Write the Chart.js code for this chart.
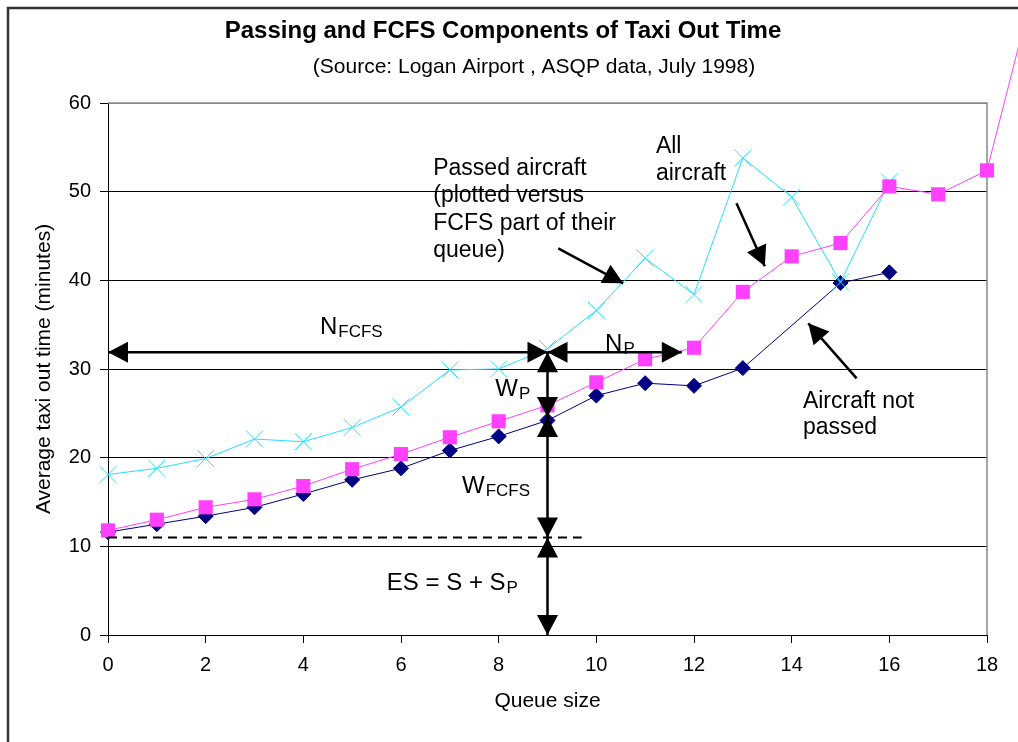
<!DOCTYPE html>
<html>
<head>
<meta charset="utf-8">
<script src="https://cdn.jsdelivr.net/npm/chart.js@4.4.1/dist/chart.umd.min.js"></script>
<style>
  html, body { margin: 0; padding: 0; background: #fff; }
  #wrap { width: 1018px; height: 742px; position: relative; }
</style>
</head>
<body>
<div id="wrap"><canvas id="myChart"></canvas></div>
<script>
const FONT = "'Liberation Sans', Arial, sans-serif";

// queue size (x) and the three series, null = no point
const queueSizes = [0, 1, 2, 3, 4, 5, 6, 7, 8, 9, 10, 11, 12, 13, 14, 15, 16, 17, 18, 19];
const allAircraft = [11.8, 13.0, 14.4, 15.3, 16.8, 18.7, 20.4, 22.3, 24.1, 25.9, 28.5, 31.1, 32.4, 38.7, 42.7, 44.2, 50.6, 49.7, 52.4, 74];
const passedAircraft = [18.1, 18.8, 19.9, 22.1, 21.8, 23.4, 25.7, 29.9, 30.0, 32.3, 36.6, 42.5, 38.4, 53.8, 49.4, 39.8, 51.1, null, null, null];
const notPassed = [11.6, 12.5, 13.4, 14.4, 15.9, 17.5, 18.8, 20.8, 22.4, 24.2, 27.0, 28.4, 28.1, 30.1, null, 39.7, 40.9, null, null, null];

const xTicks = [0, 2, 4, 6, 8, 10, 12, 14, 16, 18];
const yTicks = [0, 10, 20, 30, 40, 50, 60];

// annotation arrows in data units: [x1, y1, x2, y2, heads]
const arrows = [
  [0, 31.9, 9, 31.9, 'both'],       // N FCFS
  [9, 31.9, 11.75, 31.9, 'both'],   // N P
  [9, 31.9, 9, 24.6, 'both'],       // W P
  [9, 24.6, 9, 11.0, 'both'],       // W FCFS
  [9, 11.0, 9, 0, 'both'],          // ES
  [9.22, 43.6, 10.55, 39.66, 'end'],
  [12.87, 48.7, 13.45, 41.6, 'end'],
  [15.33, 28.95, 14.34, 35.15, 'end']
];

const toPoints = (vals) => queueSizes
  .map((q, i) => ({ x: q, y: vals[i] }))
  .filter(p => p.y !== null);

const data = {
  datasets: [
    {
      label: 'All aircraft',
      data: toPoints(allAircraft),
      borderColor: '#ff40ff',
      backgroundColor: '#ff40ff',
      borderWidth: 1,
      pointStyle: 'rect',
      pointRadius: 10,
      pointBorderWidth: 0,
      clip: false
    },
    {
      label: 'Passed aircraft',
      data: toPoints(passedAircraft),
      borderColor: '#22e2ff',
      backgroundColor: '#22e2ff',
      borderWidth: 1,
      pointStyle: 'crossRot',
      pointRadius: 12,
      pointBorderWidth: 1,
      clip: false
    },
    {
      label: 'Aircraft not passed',
      data: toPoints(notPassed),
      borderColor: '#000080',
      backgroundColor: '#000080',
      borderWidth: 1,
      pointStyle: 'rectRot',
      pointRadius: 7.5,
      pointBorderWidth: 1,
      clip: false
    }
  ]
};

function head(ctx, tx, ty, fx, fy, len, half) {
  const a = Math.atan2(ty - fy, tx - fx);
  const bx = tx - len * Math.cos(a), by = ty - len * Math.sin(a);
  ctx.beginPath();
  ctx.moveTo(tx, ty);
  ctx.lineTo(bx + half * Math.sin(a), by - half * Math.cos(a));
  ctx.lineTo(bx - half * Math.sin(a), by + half * Math.cos(a));
  ctx.closePath();
  ctx.fill();
}

function subText(ctx, main, sub, x, y, size, subSize) {
  ctx.font = size + 'px ' + FONT;
  ctx.fillText(main, x, y);
  const w = ctx.measureText(main).width;
  ctx.font = subSize + 'px ' + FONT;
  ctx.fillText(sub, x + w + 1, y + 3);
}

const annotate = {
  id: 'annotate',
  beforeDraw(chart) {
    const ctx = chart.ctx;
    ctx.save();
    ctx.fillStyle = '#fff';
    ctx.fillRect(0, 0, chart.width, chart.height);
    ctx.restore();
  },
  beforeDatasetsDraw(chart) {
    const { ctx, chartArea: a } = chart;
    ctx.save();
    ctx.strokeStyle = '#888';
    ctx.lineWidth = 1.5;
    ctx.beginPath();
    ctx.moveTo(a.left, a.top);
    ctx.lineTo(a.right, a.top);
    ctx.lineTo(a.right, a.bottom);
    ctx.stroke();
    ctx.restore();
  },
  afterDraw(chart) {
    const { ctx, scales: { x, y } } = chart;
    ctx.save();

    // outer frame
    ctx.strokeStyle = '#333';
    ctx.lineWidth = 2.5;
    ctx.beginPath();
    ctx.moveTo(8, chart.height);
    ctx.lineTo(8, 8);
    ctx.lineTo(chart.width, 8);
    ctx.stroke();

    // titles
    ctx.fillStyle = '#000';
    ctx.textAlign = 'center';
    ctx.textBaseline = 'alphabetic';
    ctx.font = 'bold 24px ' + FONT;
    ctx.fillText('Passing and FCFS Components of Taxi Out Time', 503, 38);
    ctx.font = '21px ' + FONT;
    ctx.fillText('(Source: Logan Airport , ASQP data, July 1998)', 534, 73);

    // dashed ES level
    ctx.strokeStyle = '#000';
    ctx.lineWidth = 2;
    ctx.setLineDash([9, 6]);
    ctx.beginPath();
    ctx.moveTo(x.getPixelForValue(0), y.getPixelForValue(11.0));
    ctx.lineTo(x.getPixelForValue(9.7), y.getPixelForValue(11.0));
    ctx.stroke();
    ctx.setLineDash([]);

    // arrows
    ctx.fillStyle = '#000';
    ctx.lineWidth = 2.5;
    arrows.forEach(([x1, y1, x2, y2, heads]) => {
      const px1 = x.getPixelForValue(x1), py1 = y.getPixelForValue(y1);
      const px2 = x.getPixelForValue(x2), py2 = y.getPixelForValue(y2);
      ctx.beginPath();
      ctx.moveTo(px1, py1);
      ctx.lineTo(px2, py2);
      ctx.stroke();
      head(ctx, px2, py2, px1, py1, 20, 10.5);
      if (heads === 'both') head(ctx, px1, py1, px2, py2, 20, 10.5);
    });

    // labels
    ctx.textAlign = 'left';
    ctx.font = '23px ' + FONT;
    const lines = (arr, xv, yv, lh) => arr.forEach((t, i) =>
      ctx.fillText(t, x.getPixelForValue(xv), y.getPixelForValue(yv) + i * lh));
    lines(['Passed aircraft', '(plotted versus', 'FCFS part of their', 'queue)'], 6.66, 51.88, 27.5);
    lines(['All', 'aircraft'], 11.22, 54.36, 27);
    lines(['Aircraft not', 'passed'], 14.23, 25.6, 26);

    subText(ctx, 'N', 'FCFS', x.getPixelForValue(4.34), y.getPixelForValue(33.9), 24, 17);
    subText(ctx, 'N', 'P', x.getPixelForValue(10.18), y.getPixelForValue(32.0), 24, 17);
    subText(ctx, 'W', 'P', x.getPixelForValue(7.93), y.getPixelForValue(27.0), 24, 17);
    subText(ctx, 'W', 'FCFS', x.getPixelForValue(7.25), y.getPixelForValue(16.01), 24, 17);
    subText(ctx, 'ES = S + S', 'P', x.getPixelForValue(5.71), y.getPixelForValue(5.07), 24, 17);

    ctx.restore();
  }
};

const config = {
  type: 'line',
  data: data,
  options: {
    animation: false,
    responsive: true,
    maintainAspectRatio: false,
    layout: { padding: { left: 10, right: 31, top: 103, bottom: 27 } },
    plugins: {
      legend: { display: false },
      tooltip: { enabled: false }
    },
    scales: {
      x: {
        type: 'linear',
        bounds: 'data',
        // range set here (not as min/max) so the last segment past 18 is still drawn
        afterDataLimits: (s) => { s.min = 0; s.max = 18; },
        afterFit: (s) => { s.height = 80; },
        afterBuildTicks: (s) => { s.ticks = xTicks.map(v => ({ value: v })); },
        ticks: { color: '#000', padding: 10, font: { family: FONT, size: 20 }, maxRotation: 0 },
        grid: { drawOnChartArea: false, tickLength: 8, color: '#000' },
        border: { color: '#000', width: 1 },
        title: { display: true, text: 'Queue size', color: '#000', font: { family: FONT, size: 21 }, padding: { top: 0, bottom: 1 } }
      },
      y: {
        min: 0,
        max: 60,
        afterFit: (s) => { s.width = 98; },
        afterBuildTicks: (s) => { s.ticks = yTicks.map(v => ({ value: v })); },
        ticks: { color: '#000', padding: 9, font: { family: FONT, size: 20 } },
        grid: {
          color: (c) => (c.tick && c.tick.value === 60 ? '#888' : '#000'),
          tickColor: '#000',
          tickLength: 8,
          lineWidth: 1
        },
        border: { color: '#000', width: 1 },
        title: { display: true, text: 'Average taxi out time (minutes)', color: '#000', font: { family: FONT, size: 21 }, padding: { top: 22, bottom: 0 } }
      }
    }
  },
  plugins: [annotate]
};

const myChart = new Chart(document.getElementById('myChart').getContext('2d'), config);
</script>
</body>
</html>
